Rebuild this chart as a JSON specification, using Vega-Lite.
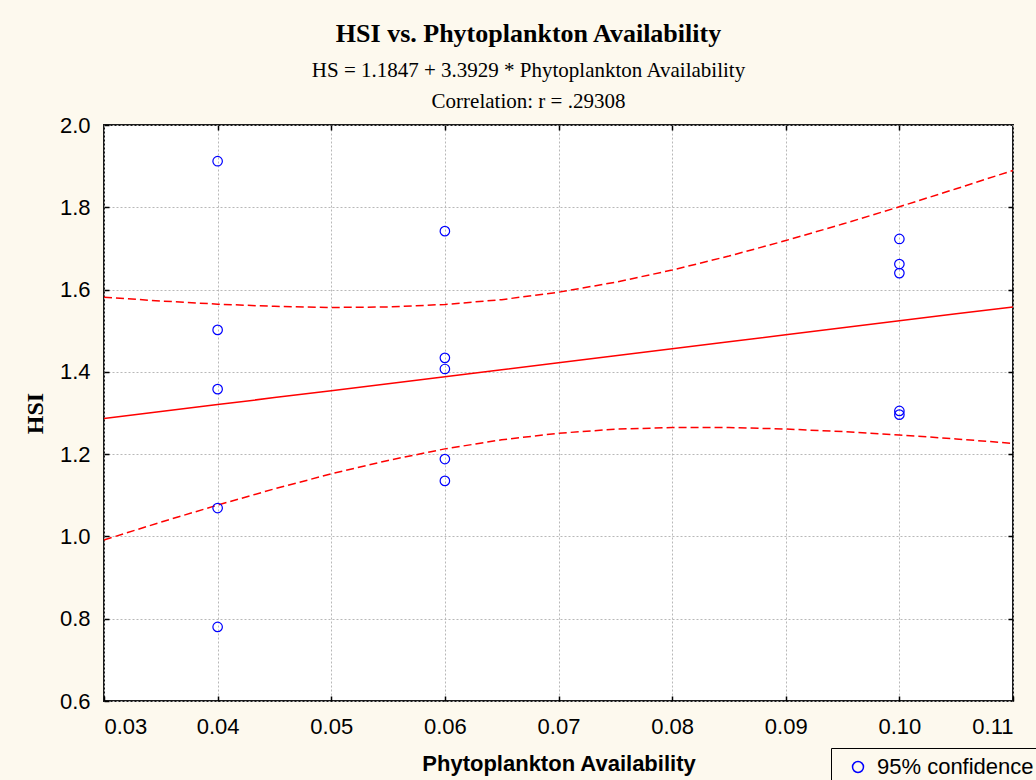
{
  "$schema": "https://vega.github.io/schema/vega-lite/v6.json",
  "autosize": {"type": "none"},
  "width": 909,
  "height": 576,
  "padding": {"left": 104, "top": 125, "right": 23, "bottom": 79},
  "background": "#fdf9ee",
  "title": {
    "text": "HSI vs. Phytoplankton Availability",
    "subtitle": ["HS = 1.1847 + 3.3929 * Phytoplankton Availability", "Correlation: r = .29308"],
    "anchor": "middle",
    "dx": -30,
    "offset": 2,
    "font": "Liberation Serif",
    "fontSize": 26,
    "fontWeight": "bold",
    "color": "#000000",
    "subtitleFont": "Liberation Serif",
    "subtitleFontSize": 21,
    "subtitleColor": "#000000",
    "subtitleLineHeight": 31,
    "subtitlePadding": 13
  },
  "config": {
    "view": {"fill": "#ffffff", "stroke": "#1a1a1a", "strokeWidth": 2},
    "axis": {
      "domain": false,
      "tickColor": "#000000",
      "tickWidth": 1.5,
      "gridColor": "#b8b8b8",
      "gridDash": [2, 2],
      "gridWidth": 1,
      "labelFont": "Liberation Sans",
      "labelFontSize": 22,
      "labelColor": "#000000",
      "titleColor": "#000000"
    }
  },
  "resolve": {"axis": {"x": "independent", "y": "independent"}},
  "datasets": {
    "obs": [
      {"x": 0.04, "y": 1.912},
      {"x": 0.04, "y": 1.502},
      {"x": 0.04, "y": 1.358},
      {"x": 0.04, "y": 1.069},
      {"x": 0.04, "y": 0.780},
      {"x": 0.06, "y": 1.742},
      {"x": 0.06, "y": 1.434},
      {"x": 0.06, "y": 1.407},
      {"x": 0.06, "y": 1.188},
      {"x": 0.06, "y": 1.135},
      {"x": 0.10, "y": 1.723},
      {"x": 0.10, "y": 1.662},
      {"x": 0.10, "y": 1.640},
      {"x": 0.10, "y": 1.305},
      {"x": 0.10, "y": 1.296}
    ],
    "fit": [
      {"x": 0.030, "fit": 1.2865, "upper": 1.5815, "lower": 0.9915},
      {"x": 0.035, "fit": 1.3034, "upper": 1.5722, "lower": 1.0346},
      {"x": 0.040, "fit": 1.3204, "upper": 1.5646, "lower": 1.0762},
      {"x": 0.045, "fit": 1.3374, "upper": 1.5592, "lower": 1.1156},
      {"x": 0.050, "fit": 1.3543, "upper": 1.5565, "lower": 1.1521},
      {"x": 0.055, "fit": 1.3713, "upper": 1.5578, "lower": 1.1848},
      {"x": 0.060, "fit": 1.3883, "upper": 1.5638, "lower": 1.2128},
      {"x": 0.065, "fit": 1.4052, "upper": 1.5755, "lower": 1.2349},
      {"x": 0.070, "fit": 1.4222, "upper": 1.5936, "lower": 1.2508},
      {"x": 0.075, "fit": 1.4392, "upper": 1.6178, "lower": 1.2606},
      {"x": 0.080, "fit": 1.4561, "upper": 1.6474, "lower": 1.2648},
      {"x": 0.085, "fit": 1.4731, "upper": 1.6815, "lower": 1.2647},
      {"x": 0.090, "fit": 1.4901, "upper": 1.7191, "lower": 1.2611},
      {"x": 0.095, "fit": 1.5070, "upper": 1.7592, "lower": 1.2548},
      {"x": 0.100, "fit": 1.5240, "upper": 1.8013, "lower": 1.2467},
      {"x": 0.105, "fit": 1.5410, "upper": 1.8450, "lower": 1.2370},
      {"x": 0.110, "fit": 1.5579, "upper": 1.8896, "lower": 1.2262}
    ]
  },
  "layer": [
    {
      "data": {"name": "fit"},
      "mark": {"type": "line", "color": "#ff0000", "strokeWidth": 1.5},
      "encoding": {
        "x": {
          "field": "x", "type": "quantitative",
          "scale": {"domain": [0.03, 0.11], "nice": false, "zero": false},
          "axis": {
            "values": [0.03, 0.04, 0.05, 0.06, 0.07, 0.08, 0.09, 0.10, 0.11],
            "format": ".2f",
            "title": "Phytoplankton Availability",
            "titleFont": "Liberation Sans",
            "titleFontSize": 22,
            "titleFontWeight": "bold",
            "titlePadding": 16,
            "tickSize": -5,
            "labelPadding": 20
          }
        },
        "y": {
          "field": "fit", "type": "quantitative",
          "scale": {"domain": [0.6, 2.0], "nice": false, "zero": false},
          "axis": {
            "values": [0.6, 0.8, 1.0, 1.2, 1.4, 1.6, 1.8, 2.0],
            "format": ".1f",
            "title": "HSI",
            "titleFont": "Liberation Serif",
            "titleFontSize": 24,
            "titleFontWeight": "bold",
            "titlePadding": 12,
            "tickSize": -5,
            "labelPadding": 19
          }
        }
      }
    },
    {
      "data": {"name": "fit"},
      "mark": {"type": "line", "color": "#ff0000", "strokeWidth": 1.5, "strokeDash": [8, 4]},
      "encoding": {
        "x": {
          "field": "x", "type": "quantitative",
          "axis": {
            "orient": "top",
            "values": [0.04, 0.05, 0.06, 0.07, 0.08, 0.09, 0.10],
            "labels": false, "title": null, "grid": false, "tickSize": -5
          }
        },
        "y": {
          "field": "upper", "type": "quantitative",
          "axis": {
            "orient": "right",
            "values": [0.8, 1.0, 1.2, 1.4, 1.6, 1.8],
            "labels": false, "title": null, "grid": false, "tickSize": -5
          }
        }
      }
    },
    {
      "data": {"name": "fit"},
      "mark": {"type": "line", "color": "#ff0000", "strokeWidth": 1.5, "strokeDash": [8, 4]},
      "encoding": {
        "x": {"field": "x", "type": "quantitative", "axis": null},
        "y": {"field": "lower", "type": "quantitative", "axis": null}
      }
    },
    {
      "data": {"name": "obs"},
      "mark": {"type": "point", "shape": "circle", "filled": false, "size": 90, "strokeWidth": 1.2, "opacity": 1},
      "encoding": {
        "x": {"field": "x", "type": "quantitative", "axis": null},
        "y": {"field": "y", "type": "quantitative", "axis": null},
        "stroke": {
          "datum": "95% confidence",
          "type": "nominal",
          "scale": {"range": ["#0000ff"]},
          "legend": {
            "title": null,
            "orient": "none",
            "legendX": 727,
            "legendY": 623,
            "labelFont": "Liberation Sans",
            "labelFontSize": 22,
            "labelColor": "#000000",
            "labelOffset": 8,
            "strokeColor": "#000000",
            "fillColor": "#fdf9ee",
            "padding": 8,
            "symbolSize": 120,
            "symbolStrokeWidth": 1.5,
            "symbolOffset": 8
          }
        }
      }
    }
  ]
}
